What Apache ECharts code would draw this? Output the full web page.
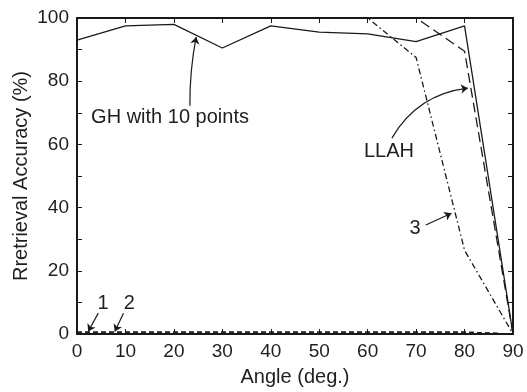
<!DOCTYPE html>
<html>
<head>
<meta charset="utf-8">
<script src="https://cdn.jsdelivr.net/npm/echarts@6/dist/echarts.min.js"></script>
<style>
  html, body { margin: 0; padding: 0; background: #fff; }
  #chart { width: 527px; height: 392px; }
</style>
</head>
<body>
<div id="chart"></div>
<script>
// angle in degrees, accuracy in %
const angles = [0, 10, 20, 30, 40, 50, 60, 70, 80, 90];
const ghValues = [93, 97.5, 98, 90.5, 97.5, 95.5, 95, 92.5, 97.5, 0];
const llahValues = [100, 100, 100, 100, 100, 100, 100, 100, 89.5, 0];
const method3Values = [100, 100, 100, 100, 100, 100, 100, 87.5, 26.5, 0];
const method1Values = [0.6, 0.6, 0.6, 0.6, 0.6, 0.6, 0.6, 0.6, 0.6, 0];
const method2Values = [0.6, 0.6, 0.6, 0.6, 0.6, 0.6, 0.6, 0.6, 0.6, 0];
const yTicks = [0, 20, 40, 60, 80, 100];

// callouts: text anchor and arrow (from -> to), in data units
const callouts = [
  { text: "GH with 10 points", at: [19.2, 68.6], from: [23.3, 72.2], to: [24.6, 94], bend: 0.05 },
  { text: "LLAH", at: [64.4, 57.9], from: [65.0, 62.0], to: [80.7, 77.8], bend: 0.25 },
  { text: "3", at: [69.8, 33.5], from: [72.0, 34.5], to: [77.3, 38.2], bend: 0 },
  { text: "1", at: [5.4, 9.8], from: [4.4, 6.6], to: [2.3, 0.8], bend: 0 },
  { text: "2", at: [10.8, 9.8], from: [9.6, 6.6], to: [7.8, 0.8], bend: 0 }
];

const ink = "#1a1a1a";
const textInk = "#1f1f1f";
const font = "'Liberation Sans', Arial, sans-serif";

function pairs(vals) {
  return angles.map((a, i) => [a, vals[i]]);
}

function frameAxis(pos, withLabels) {
  return {
    type: "value",
    position: pos,
    axisLine: { show: true, onZero: false, lineStyle: { color: ink, width: 2 } },
    axisTick: { show: true, inside: true, length: 5, lineStyle: { color: ink, width: 1 } },
    axisLabel: withLabels
      ? { show: true, color: textInk, fontSize: 19, fontFamily: font, margin: 8 }
      : { show: false },
    splitLine: { show: false }
  };
}

const chart = echarts.init(document.getElementById("chart"), null, { renderer: "canvas" });

const x0 = frameAxis("bottom", true);
const x1 = frameAxis("top", false);
[x0, x1].forEach(ax => Object.assign(ax, { min: 0, max: 90, interval: 10 }));
x0.name = "Angle (deg.)";
x0.nameLocation = "middle";
x0.nameGap = 33;
x0.nameMoveOverlap = false;
x0.nameTextStyle = { color: textInk, fontSize: 20, fontFamily: font };

const y0 = frameAxis("left", true);
const y1 = frameAxis("right", false);
[y0, y1].forEach(ax => Object.assign(ax, {
  min: yTicks[0], max: yTicks[yTicks.length - 1], interval: 20,
  minorTick: { show: true, splitNumber: 2, length: 5, lineStyle: { color: ink, width: 1 } }
}));
y0.name = "Rretrieval Accuracy (%)";
y0.nameLocation = "middle";
y0.nameGap = 46;
y0.nameMoveOverlap = false;
y0.nameTextStyle = { color: textInk, fontSize: 20, fontFamily: font };

function lineSeries(name, vals, type) {
  return {
    name, type: "line", data: pairs(vals),
    showSymbol: false, symbol: "none", animation: false, z: 3,
    lineStyle: { color: ink, width: 1.3, type }
  };
}

chart.setOption({
  animation: false,
  grid: { left: 77, right: 14, top: 18, bottom: 58, outerBoundsMode: "none", containLabel: false },
  xAxis: [x0, x1],
  yAxis: [y0, y1],
  series: [
    lineSeries("GH with 10 points", ghValues, "solid"),
    lineSeries("LLAH", llahValues, [10, 5]),
    lineSeries("3", method3Values, [6, 3, 1.5, 3]),
    lineSeries("1", method1Values, [5, 3]),
    lineSeries("2", method2Values, [5, 3]),
    {
      type: "lines",
      coordinateSystem: "cartesian2d",
      silent: true, z: 4,
      symbol: ["none", "arrow"],
      symbolSize: 7,
      lineStyle: { color: ink, width: 1.2, opacity: 1 },
      data: callouts.map(c => ({ coords: [c.from, c.to], lineStyle: { curveness: c.bend } }))
    }
  ]
});

// place callout texts at their data positions
chart.setOption({
  graphic: callouts.map(c => {
    const p = chart.convertToPixel({ xAxisIndex: 0, yAxisIndex: 0 }, c.at);
    return {
      type: "text", x: p[0], y: p[1], z: 10, silent: true,
      style: {
        text: c.text, fill: textInk, font: "20px " + font,
        align: "center", verticalAlign: "middle"
      }
    };
  })
});
</script>
</body>
</html>
